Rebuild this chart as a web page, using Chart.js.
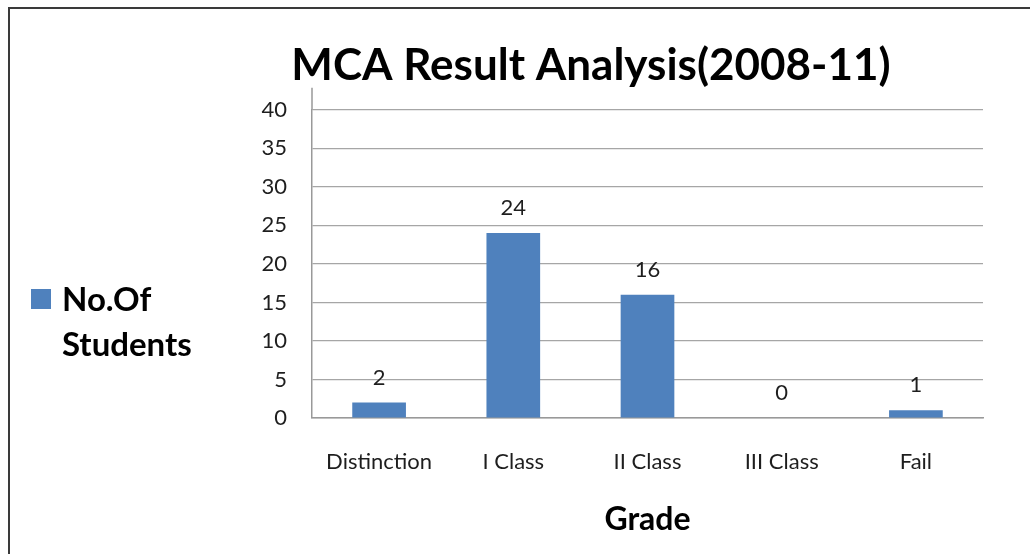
<!DOCTYPE html>
<html>
<head>
<meta charset="utf-8">
<script src="https://cdn.jsdelivr.net/npm/chart.js@4"></script>
<style>
    html, body { margin: 0; padding: 0; background: #fff; }
    #wrap { position: relative; width: 1030px; height: 554px; overflow: hidden; }
    #frame { position: absolute; left: 8px; top: 7px; width: 1200px; height: 700px;
             border: 2px solid #3a3a3a; box-sizing: border-box; }
    canvas { position: absolute; left: 0; top: 0; }
</style>
</head>
<body>
<div id="wrap">
    <div id="frame"></div>
    <canvas id="chart" width="1030" height="554"></canvas>
</div>
<script>
"use strict";

const categories = ['Distinction', 'I Class', 'II Class', 'III Class', 'Fail'];
const students = [2, 24, 16, 0, 1];
const yTickValues = [0, 5, 10, 15, 20, 25, 30, 35, 40];
const seriesName = 'No.Of Students';
const chartTitle = 'MCA Result Analysis(2008-11)';
const xTitle = 'Grade';

const barColor = '#4f81bd';
const fontName = 'Lato';
const textColor = '#1e1e1e';

// value labels above each bar
const valueLabels = {
    id: 'valueLabels',
    afterDatasetsDraw(chart) {
        const ctx = chart.ctx;
        const meta = chart.getDatasetMeta(0);
        ctx.save();
        ctx.font = '22px ' + fontName;
        ctx.fillStyle = textColor;
        ctx.textAlign = 'center';
        ctx.textBaseline = 'middle';
        meta.data.forEach(function (bar, i) {
            ctx.fillText(String(chart.data.datasets[0].data[i]), bar.x, bar.y - 25);
        });
        ctx.restore();
    }
};

// legend on the left, label wrapped on two lines
const sideLegend = {
    id: 'sideLegend',
    afterDraw(chart) {
        const ctx = chart.ctx;
        const ds = chart.data.datasets[0];
        const lines = ds.label.split(' ');
        ctx.save();
        ctx.fillStyle = ds.backgroundColor;
        ctx.fillRect(31, 289, 20, 20);
        ctx.font = 'bold 33px ' + fontName;
        ctx.fillStyle = '#000';
        ctx.textAlign = 'left';
        ctx.textBaseline = 'middle';
        lines.forEach(function (t, i) {
            ctx.fillText(t, 62, 300 + i * 45);
        });
        ctx.restore();
    }
};

// y axis line runs a little above the top gridline
const axisTop = {
    id: 'axisTop',
    afterDraw(chart) {
        const ctx = chart.ctx;
        const a = chart.chartArea;
        ctx.save();
        ctx.strokeStyle = '#999';
        ctx.lineWidth = 1.5;
        ctx.beginPath();
        ctx.moveTo(a.left, a.top - 22);
        ctx.lineTo(a.left, a.top);
        ctx.stroke();
        ctx.restore();
    }
};

new Chart(document.getElementById('chart'), {
    type: 'bar',
    data: {
        labels: categories,
        datasets: [{
            label: seriesName,
            data: students,
            backgroundColor: barColor,
            categoryPercentage: 1,
            barPercentage: 0.4
        }]
    },
    plugins: [valueLabels, sideLegend, axisTop],
    options: {
        responsive: false,
        animation: false,
        layout: { padding: { left: 199, right: 47, top: 0, bottom: 0 } },
        plugins: {
            legend: { display: false },
            tooltip: { enabled: false },
            title: {
                display: true,
                text: chartTitle,
                color: '#000',
                font: { family: fontName, size: 44, weight: 'bold' },
                padding: { top: 39, bottom: 18 }
            }
        },
        scales: {
            x: {
                offset: true,
                grid: { display: false },
                border: { display: true, color: '#999', width: 1.5 },
                ticks: { color: textColor, padding: 23, font: { family: fontName, size: 22 } },
                title: {
                    display: true,
                    text: xTitle,
                    color: '#000',
                    font: { family: fontName, size: 32, weight: 'bold' },
                    padding: { top: 0, bottom: 15 }
                },
                afterFit: function (scale) { scale.height = 136; }
            },
            y: {
                min: 0,
                max: 40,
                afterBuildTicks: function (scale) {
                    scale.ticks = yTickValues.map(function (v) { return { value: v }; });
                },
                grid: { color: '#a6a6a6', lineWidth: 1.2, drawTicks: false },
                border: { display: true, color: '#999', width: 1.5 },
                ticks: { color: textColor, padding: 25, font: { family: fontName, size: 22 } },
                afterFit: function (scale) { scale.width = 113; }
            }
        }
    }
});
</script>
</body>
</html>
